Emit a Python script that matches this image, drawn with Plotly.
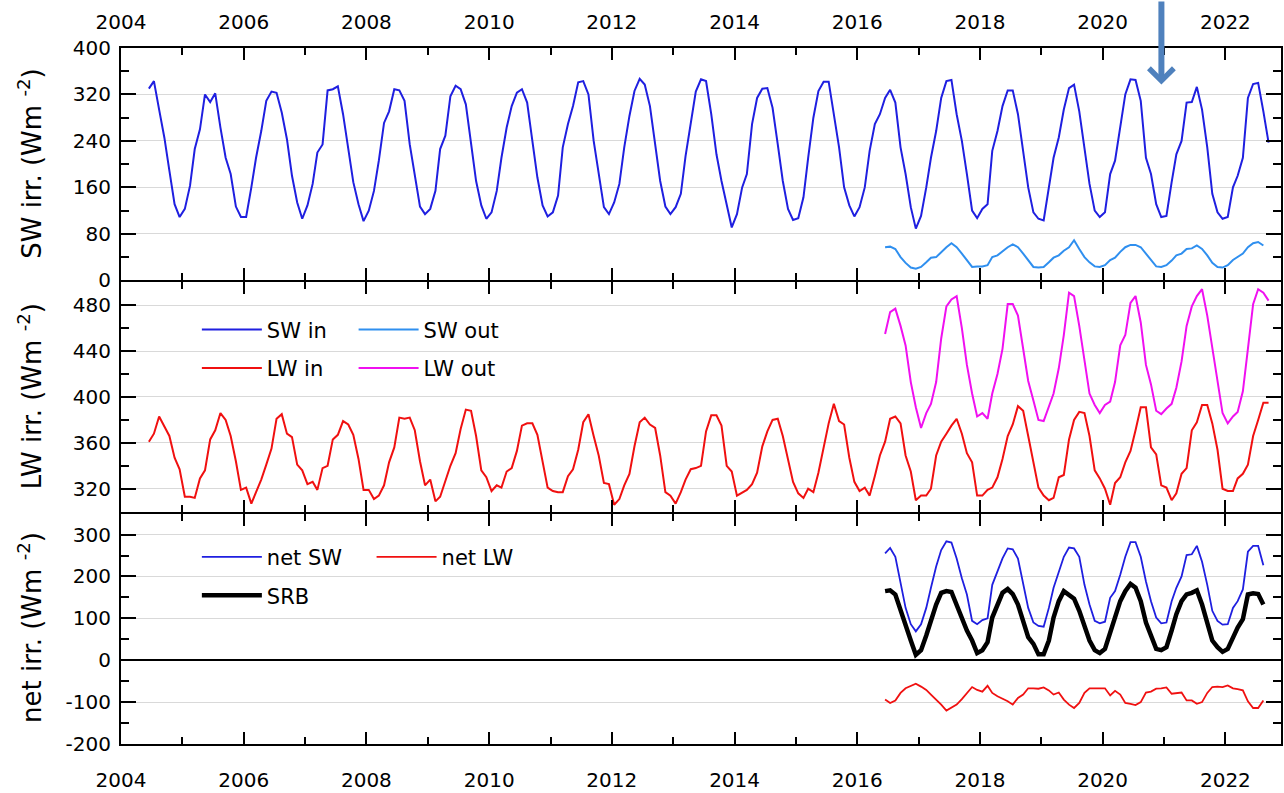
import pandas as pd
import plotly.graph_objects as go

# ---------------- data (monthly) ----------------
sw_in = [330, 343, 294, 246, 189, 131, 109,
         123, 163, 226, 260, 320, 307, 322, 263, 211, 183, 127, 109,
         109, 160, 211, 257, 309, 325, 323, 289, 243, 180, 134, 106,
         129, 166, 220, 234, 327, 329, 334, 286, 229, 169, 131, 102,
         120, 154, 206, 271, 291, 329, 327, 309, 234, 183, 127, 114,
         123, 154, 226, 249, 317, 335, 329, 303, 237, 171, 129, 106,
         117, 154, 211, 263, 300, 323, 329, 306, 240, 177, 129, 110,
         117, 146, 229, 269, 300, 341, 343, 320, 240, 180, 126, 114,
         134, 166, 229, 283, 326, 347, 337, 300, 237, 171, 127, 114,
         126, 149, 214, 270, 325, 346, 343, 286, 217, 171, 131, 91,
         114, 160, 183, 269, 314, 330, 331, 297, 234, 171, 123, 104,
         107, 143, 211, 280, 326, 342, 342, 286, 229, 160, 129, 110,
         126, 160, 223, 269, 286, 314, 328, 306, 229, 183, 126, 89,
         111, 160, 211, 257, 314, 343, 345, 286, 240, 183, 120, 107,
         123, 131, 223, 257, 300, 327, 327, 286, 223, 160, 117, 106,
         103, 160, 211, 246, 294, 331, 337, 291, 229, 166, 120, 109,
         117, 183, 206, 263, 320, 346, 345, 309, 211, 183, 131, 109,
         111, 169, 217, 240, 306, 307, 333, 294, 229, 149, 117, 106,
         109, 160, 180, 211, 314, 338, 340, 291, 237]

lw_in = [361, 368, 383, 374, 366, 347, 337,
         313, 313, 312, 329, 336, 363, 371, 386, 380, 366, 344, 319,
         321, 307, 317, 328, 341, 355, 381, 385, 368, 365, 341, 336,
         324, 326, 319, 338, 340, 363, 367, 379, 376, 367, 346, 319,
         319, 311, 314, 323, 343, 356, 382, 381, 382, 371, 344, 323,
         328, 309, 313, 326, 340, 351, 372, 389, 388, 366, 336, 330,
         318, 323, 321, 335, 338, 353, 375, 377, 377, 367, 343, 321,
         318, 317, 317, 331, 337, 354, 378, 385, 366, 349, 325, 324,
         306, 311, 323, 333, 357, 378, 382, 376, 373, 349, 317, 314,
         307, 317, 328, 337, 338, 340, 370, 384, 384, 375, 340, 335,
         314, 317, 319, 324, 334, 357, 370, 380, 381, 366, 346, 326,
         316, 312, 320, 317, 334, 356, 377, 394, 379, 376, 347, 326,
         318, 321, 314, 331, 349, 361, 381, 383, 377, 349, 335, 310,
         314, 314, 320, 349, 361, 368, 375, 381, 368, 351, 343, 314,
         314, 319, 321, 330, 346, 366, 376, 392, 388, 366, 344, 321,
         314, 310, 312, 330, 332, 363, 380, 387, 386, 366, 336, 329,
         320, 306, 325, 330, 343, 353, 371, 391, 391, 356, 350, 323,
         321, 310, 316, 333, 338, 371, 378, 393, 393, 377, 354, 320,
         318, 318, 329, 333, 341, 366, 380, 395, 395]

sw_out = [57, 58, 54, 40, 30, 22, 20,
          23, 31, 39, 40, 49, 57, 64, 57, 46, 34, 23, 24,
          24, 26, 40, 43, 50, 57, 62, 57, 46, 34, 23, 22,
          23, 31, 39, 43, 51, 57, 69, 54, 40, 31, 24, 23,
          26, 35, 39, 49, 57, 61, 61, 57, 46, 34, 24, 23,
          26, 34, 43, 46, 54, 55, 60, 54, 43, 30, 23, 22,
          26, 35, 40, 46, 57, 64, 66, 60]

lw_out = [455, 474, 477, 462, 445, 413, 391,
          373, 386, 394, 413, 451, 479, 485, 488, 460, 428, 403, 383,
          386, 381, 403, 420, 442, 481, 481, 471, 442, 414, 397, 380,
          379, 391, 403, 425, 454, 491, 488, 462, 431, 403, 393, 386,
          393, 396, 413, 445, 454, 482, 488, 465, 428, 411, 388, 385,
          390, 394, 408, 431, 462, 479, 488, 494, 471, 442, 411, 386,
          377, 383, 387, 405, 442, 481, 494, 491, 484]

net_sw = [255, 268, 247, 180, 125, 86, 69,
          86, 125, 173, 224, 263, 284, 281, 243, 196, 157, 94, 86,
          96, 100, 180, 212, 243, 267, 265, 243, 180, 125, 90, 82,
          80, 125, 173, 212, 247, 269, 267, 247, 180, 133, 94, 88,
          92, 149, 165, 204, 247, 282, 282, 247, 188, 141, 102, 88,
          90, 141, 173, 200, 251, 253, 273, 235, 180, 118, 94, 85,
          86, 125, 141, 169, 259, 273, 273, 227]

net_lw = [-94, -102, -96, -78, -67, -61, -56,
          -63, -71, -82, -93, -106, -120, -114, -106, -93, -78, -64, -71,
          -75, -61, -78, -86, -92, -98, -106, -90, -82, -67, -67, -68,
          -65, -72, -82, -77, -94, -106, -114, -102, -78, -67, -67, -67,
          -67, -84, -73, -82, -102, -104, -107, -100, -77, -75, -68, -67,
          -65, -80, -78, -77, -96, -96, -104, -100, -78, -64, -63, -64,
          -60, -67, -69, -72, -98, -114, -114, -96]

srb = [165, 167, 157, 118, 78, 47, 13,
       24, 59, 98, 133, 161, 165, 163, 133, 98, 71, 47, 17,
       24, 43, 102, 133, 161, 170, 158, 133, 94, 55, 39, 14,
       14, 47, 102, 141, 165, 157, 147, 118, 78, 47, 24, 17,
       27, 63, 102, 141, 165, 182, 173, 141, 90, 55, 27, 24,
       31, 71, 110, 141, 157, 161, 167, 133, 90, 47, 31, 20,
       27, 55, 78, 98, 157, 160, 158, 133]

net_tickvals = [-200, -100, 0, 100, 200, 300]
net_ticktext = ["-200", "-100", "0", "100", "200", "300"]


def monthly(start, end):
    return pd.date_range(start, end, freq="MS") + pd.Timedelta(days=14)


t_long = monthly("2004-06-01", "2022-09-01")
t_lwout = monthly("2016-06-01", "2022-09-01")
t_short = monthly("2016-06-01", "2022-08-01")

# ---------------- styling ----------------
FONT = "DejaVu Sans"
C_SWIN = "#1f1fe0"
C_SWOUT = "#2f8fef"
C_LWIN = "#f01010"
C_LWOUT = "#f010f0"
GRID = "#d9d9d9"

fig = go.Figure()


def add(x, y, name, color, width, xa, ya, leg):
    fig.add_trace(go.Scatter(x=x, y=y, name=name, mode="lines",
                             line=dict(color=color, width=width),
                             xaxis=xa, yaxis=ya, legend=leg, showlegend=True))


add(t_long, sw_in, "SW in", C_SWIN, 2, "x", "y", "legend")
add(t_short, sw_out, "SW out", C_SWOUT, 2, "x", "y", "legend2")
add(t_long, lw_in, "LW in", C_LWIN, 2, "x2", "y2", "legend3")
add(t_lwout, lw_out, "LW out", C_LWOUT, 2, "x2", "y2", "legend4")
add(t_short, net_sw, "net SW", C_SWIN, 1.8, "x3", "y3", "legend5")
add(t_short, net_lw, "net LW", C_LWIN, 1.8, "x3", "y3", "legend6")
add(t_short, srb, "SRB", "black", 4.5, "x3", "y3", "legend7")

W, H = 1284, 793
ML, MR, MT, MB = 121, 1, 48, 41
PW = W - ML - MR
PH = H - MT - MB
LW_AX = 2


def py(ypix):
    return (H - MB - ypix) / PH


def px(xpix):
    return (xpix - ML) / PW


xcommon = dict(type="date", range=["2004-01-01", "2022-11-28"],
               tickformat="%Y", tick0="2004-01-01", dtick="M24",
               ticks="inside", ticklen=12, tickwidth=2, tickcolor="black",
               showline=True, linecolor="black", linewidth=LW_AX,
               mirror="allticks", showgrid=False, zeroline=False,
               tickfont=dict(family=FONT, size=20, color="black"),
               minor=dict(tick0="2004-01-01", dtick="M12", ticks="inside",
                          ticklen=7, tickwidth=2, tickcolor="black",
                          showgrid=False))

ycommon = dict(ticks="inside", ticklen=15, tickwidth=2, tickcolor="black",
               showline=True, linecolor="black", linewidth=LW_AX,
               mirror="allticks", showgrid=True, gridcolor=GRID, gridwidth=1,
               zeroline=False, ticklabelstandoff=4,
               tickfont=dict(family=FONT, size=20, color="black"))

# panel edges; lower panels are nudged so that shared frame lines coincide
b1, b2 = py(517), py(283)
nudge = LW_AX / PH

fig.update_layout(
    width=W, height=H,
    margin=dict(l=ML, r=MR, t=MT, b=MB, pad=0),
    paper_bgcolor="white", plot_bgcolor="white",
    font=dict(family=FONT, size=20, color="black"),
    xaxis=dict(xcommon, anchor="y", side="top", ticklabelstandoff=9),
    xaxis2=dict(xcommon, anchor="y2", matches="x", showticklabels=False),
    xaxis3=dict(xcommon, anchor="y3", matches="x", side="bottom",
                ticklabelstandoff=17),
    yaxis=dict(ycommon, domain=[b2, 1], range=[0, 400], tickmode="linear",
               tick0=0, dtick=80,
               minor=dict(tickmode="linear", tick0=0, dtick=40, ticks="inside",
                          ticklen=8, tickwidth=2, tickcolor="black",
                          showgrid=False)),
    yaxis2=dict(ycommon, domain=[b1, b2 - nudge], range=[300, 500],
                tickmode="linear", tick0=320, dtick=40,
                minor=dict(tickmode="linear", tick0=300, dtick=20,
                           ticks="inside", ticklen=8, tickwidth=2,
                           tickcolor="black", showgrid=False)),
    yaxis3=dict(ycommon, domain=[0, b1 - nudge], range=[-200, 350],
                tickmode="array", tickvals=net_tickvals,
                ticktext=net_ticktext,
                zeroline=True, zerolinecolor="black", zerolinewidth=1.5,
                minor=dict(tickmode="linear", tick0=-200, dtick=50,
                           ticks="inside", ticklen=8, tickwidth=2,
                           tickcolor="black", showgrid=False)),
)

# legends, one per entry, placed like the original
legend_pos = {
    "legend": (197, 333), "legend2": (354, 333),
    "legend3": (197, 372), "legend4": (354, 372),
    "legend5": (197, 563), "legend6": (372, 563),
    "legend7": (197, 602),
}
for key, (lx, ly) in legend_pos.items():
    fig.update_layout({key: dict(x=px(lx), y=py(ly), xanchor="left",
                                 yanchor="middle", bgcolor="rgba(0,0,0,0)",
                                 borderwidth=0, itemwidth=60,
                                 font=dict(family=FONT, size=21,
                                           color="black"))})

# y-axis titles
titles = [("SW irr. (Wm <sup>-2</sup>)", (48 + 282) / 2),
          ("LW irr. (Wm <sup>-2</sup>)", (283 + 517) / 2),
          ("net irr. (Wm <sup>-2</sup>)", (517 + 752) / 2)]
for txt, yc in titles:
    fig.add_annotation(text=txt, xref="paper", yref="paper", x=px(30),
                       y=py(yc), xanchor="center", yanchor="middle",
                       textangle=-90, showarrow=False,
                       font=dict(family=FONT, size=26, color="black"))

# arrow marker
fig.add_annotation(x="2020-12-16", y=337, xref="x", yref="y", text="",
                   showarrow=True, arrowhead=4, arrowsize=0.8, arrowwidth=6,
                   arrowcolor="#4f81bd", ax=0, ay=-86)

fig.write_html("out.html")
